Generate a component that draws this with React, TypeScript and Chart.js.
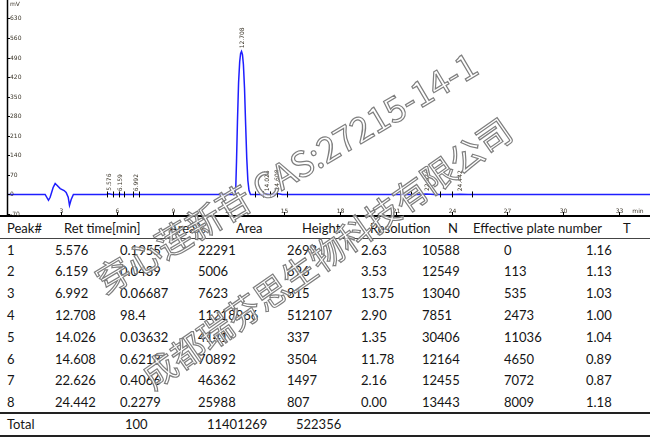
import React, { useEffect, useRef } from "react";
import { Chart, registerables } from "chart.js";

Chart.register(...registerables);

// ---- chromatogram trace (time in min, signal in mV) ----
const traceTime = [
  0.1, 2.15, 2.33, 2.42, 2.58, 2.69, 2.8, 2.96, 3.17, 3.28, 3.39, 3.46, 3.55, 3.67,
  5.45, 5.576, 5.75, 6.05, 6.159, 6.3, 6.9, 6.992, 7.15,
  12.35, 12.4, 12.44, 12.49, 12.55, 12.61, 12.66, 12.708, 12.76, 12.81, 12.87, 12.93, 12.99, 13.05, 13.11, 13.19,
  13.9, 14.026, 14.2, 14.4, 14.608, 14.9, 22.2, 22.626, 23.1, 24.1, 24.442, 24.9, 34.67,
];
const traceSignal = [
  0, 0, -21, -10, 25, 39, 32, 21, 14, 7, -10, -39, -18, 0,
  0, 2.7, 0, 0, 0.7, 0, 0, 0.8, 0,
  0, 25, 120, 260, 400, 475, 505, 512, 500, 465, 380, 250, 130, 50, 15, 0,
  0, 0.3, 0, 0, 3.5, 0, 0, 1.5, 0, 0, 0.8, 0, 0,
];

// ---- axis ticks ----
const xTicks = [3, 6, 9, 12, 15, 18, 21, 24, 27, 30, 33];
const yTicks = [-70, 0, 70, 140, 210, 280, 350, 420, 490, 560, 630];

// ---- peak integration marks ----
const peakBounds = [5.5, 5.82, 6.13, 6.4, 6.9, 7.22, 13.44, 13.85, 14.25, 14.62, 15.14, 21.81, 23.39, 24.0, 25.12];

// ---- results table ----
const peakNo = ["1", "2", "3", "4", "5", "6", "7", "8"];
const retTime = ["5.576", "6.159", "6.992", "12.708", "14.026", "14.608", "22.626", "24.442"];
const areaPct = ["0.1955", "0.0439", "0.06687", "98.4", "0.03632", "0.6218", "0.4066", "0.2279"];
const areaVal = ["22291", "5006", "7623", "11218966", "4141", "70892", "46362", "25988"];
const heightVal = ["2693", "696", "815", "512107", "337", "3504", "1497", "807"];
const resolution = ["2.63", "3.53", "13.75", "2.90", "1.35", "11.78", "2.16", "0.00"];
const plateN = ["10588", "12549", "13040", "7851", "30406", "12164", "12455", "13443"];
const effPlate = ["0", "113", "535", "2473", "11036", "4650", "7072", "8009"];
const tailing = ["1.16", "1.13", "1.03", "1.00", "1.04", "0.89", "0.87", "1.18"];
const headers = ["Peak#", "Ret time[min]", "Area%", "Area", "Height", "Resolution", "N", "Effective plate number", "T"];
const totalRow = ["Total", "100", "11401269", "522356"];

const headerX = [7, 64, 169, 236, 302, 370, 448, 473, 623];
const colX = [7, 55, 120, 198, 287, 361, 422, 504, 586];
const totalX = [7, 125, 207, 296];

const overlay = {
  id: "overlay",
  afterDatasetsDraw(chart: any) {
    const { ctx, chartArea } = chart;
    const xs = chart.scales.x;
    const ys = chart.scales.y;
    ctx.save();
    // axes
    ctx.strokeStyle = "#000";
    ctx.lineWidth = 1.5;
    ctx.beginPath();
    ctx.moveTo(chartArea.left + 0.5, 0);
    ctx.lineTo(chartArea.left + 0.5, 216);
    ctx.stroke();
    ctx.fillStyle = "#000";
    ctx.fillRect(0, 215, 650, 2);

    // y ticks + labels
    ctx.font = '6px "DejaVu Sans"';
    ctx.fillStyle = "#3a3428";
    ctx.textAlign = "left";
    ctx.textBaseline = "middle";
    ctx.lineWidth = 1;
    for (const v of yTicks) {
      const py = Math.round(ys.getPixelForValue(v)) + 0.5;
      ctx.beginPath();
      ctx.moveTo(chartArea.left, py);
      ctx.lineTo(chartArea.left + 3, py);
      ctx.stroke();
      ctx.fillText(String(v), chartArea.left + 3, py);
    }
    ctx.fillText("mV", chartArea.left + 3, 4);

    // x ticks + labels
    ctx.textAlign = "center";
    for (const t of xTicks) {
      const px = Math.round(xs.getPixelForValue(t)) + 0.5;
      ctx.beginPath();
      ctx.moveTo(px, 212);
      ctx.lineTo(px, 215);
      ctx.stroke();
      ctx.fillText(String(t), px, 211);
    }
    ctx.fillText("min", 638, 211);

    // integration boundary marks
    const y0 = ys.getPixelForValue(0);
    ctx.strokeStyle = "#000";
    for (const b of peakBounds) {
      const px = Math.round(xs.getPixelForValue(b)) + 0.5;
      ctx.beginPath();
      ctx.moveTo(px, y0 - 3);
      ctx.lineTo(px, y0 + 3);
      ctx.stroke();
    }

    // peak labels
    ctx.font = '6px "DejaVu Sans"';
    ctx.fillStyle = "#3a3428";
    ctx.textAlign = "left";
    ctx.textBaseline = "middle";
    retTime.forEach((rt, i) => {
      const px = xs.getPixelForValue(parseFloat(rt));
      const py = ys.getPixelForValue(parseFloat(heightVal[i]) / 1000) - 3;
      ctx.save();
      ctx.translate(px + 1, py);
      ctx.rotate(-Math.PI / 2);
      ctx.fillText(rt, 0, 0);
      ctx.restore();
    });
    ctx.restore();
  },
};

function ChromChart() {
  const ref = useRef<HTMLCanvasElement | null>(null);
  useEffect(() => {
    if (!ref.current) return;
    const points = traceTime.map((t, i) => ({ x: t, y: traceSignal[i] }));
    const chart = new Chart(ref.current, {
      type: "line",
      data: {
        datasets: [
          {
            data: points,
            borderColor: "#1e1eff",
            borderWidth: 1.5,
            pointRadius: 0,
            tension: 0,
            fill: false,
          },
        ],
      },
      options: {
        animation: false,
        responsive: false,
        maintainAspectRatio: false,
        events: [],
        layout: { padding: { left: 7, right: 0, top: 0, bottom: 3 } },
        plugins: { legend: { display: false }, tooltip: { enabled: false } },
        scales: {
          x: { type: "linear", min: 0.1, max: 34.67, display: false },
          y: { type: "linear", min: -70, max: 696, display: false },
        },
      },
      plugins: [overlay],
    });
    return () => chart.destroy();
  }, []);
  return <canvas ref={ref} width={650} height={217} style={{ display: "block", position: "absolute", left: 0, top: 0 }} />;
}

const rowY = [249.5, 271.3, 293.1, 314.9, 336.7, 358.5, 380.3, 402.1];
const cellStyle = (x: number, yc: number): React.CSSProperties => ({
  position: "absolute",
  left: x,
  top: yc - 9,
  height: 18,
  lineHeight: "18px",
  fontFamily: "Lato, sans-serif",
  fontSize: 13,
  color: "#151515",
  whiteSpace: "nowrap",
});

const wmStyle = (cx: number, cy: number, angle: number, size: number): React.CSSProperties => ({
  position: "absolute",
  left: cx,
  top: cy,
  transform: `translate(-50%, -50%) rotate(${angle}deg)`,
  fontFamily: '"Noto Sans CJK SC", sans-serif',
  fontSize: size,
  color: "rgba(255,255,255,0.7)",
  WebkitTextStroke: "1.2px #7e7e7e",
  whiteSpace: "nowrap",
});

export default function App() {
  const cols = [peakNo, retTime, areaPct, areaVal, heightVal, resolution, plateN, effPlate, tailing];
  return (
    <div style={{ position: "fixed", left: 0, top: 0, width: 650, height: 438, background: "#fff", overflow: "hidden" }}>
      <ChromChart />
      {headers.map((h, i) => (
        <div key={"h" + i} style={cellStyle(headerX[i], 228)}>{h}</div>
      ))}
      <div style={{ position: "absolute", left: 0, top: 238, width: 650, height: 1, background: "#444" }} />
      {cols.map((col, c) =>
        col.map((v, r) => (
          <div key={c + "-" + r} style={cellStyle(colX[c], rowY[r])}>{v}</div>
        ))
      )}
      <div style={{ position: "absolute", left: 0, top: 412, width: 650, height: 2, background: "#222" }} />
      {totalRow.map((v, i) => (
        <div key={"t" + i} style={cellStyle(totalX[i], 424)}>{v}</div>
      ))}
      <div style={{ position: "absolute", left: 0, top: 435, width: 650, height: 2, background: "#222" }} />
      {/* watermark */}
      <div style={wmStyle(285, 171, -30.7, 35)}>穿心莲新苷 CAS:27215-14-1</div>
      <div style={wmStyle(326, 252, -35, 34)}>成都瑞芬思生物科技有限公司</div>
    </div>
  );
}
